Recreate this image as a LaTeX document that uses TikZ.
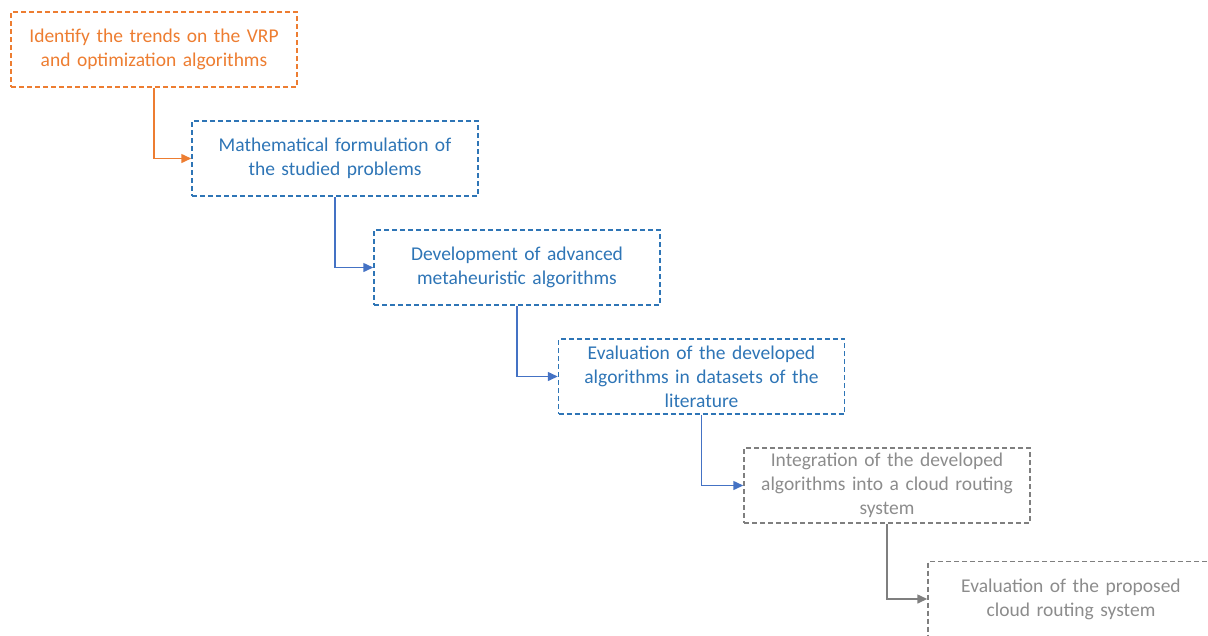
\documentclass[tikz,border=0pt]{standalone}
\usepackage{fontspec}
\setmainfont{Carlito}
\usetikzlibrary{arrows.meta}
\definecolor{stepOrange}{HTML}{ED7D31}
\definecolor{stepBlue}{HTML}{2E75B6}
\definecolor{linkBlue}{HTML}{4472C4}
\definecolor{stepGray}{HTML}{7F7F7F}
\definecolor{textGray}{HTML}{8C8C8C}
\begin{document}
\begin{tikzpicture}[x=1pt,y=-1pt,
  stagebox/.style={draw, line width=1.5pt, dash pattern=on 5pt off 3pt,
    minimum width=286pt, minimum height=75pt, text width=276pt, align=center,
    inner sep=0pt, font=\fontsize{19.5}{24}\selectfont},
  orangebox/.style={stagebox, draw=stepOrange, text=stepOrange},
  bluebox/.style={stagebox, draw=stepBlue, text=stepBlue},
  graybox/.style={stagebox, draw=stepGray, text=textGray},
  link/.style={line width=1.5pt, -{Triangle[length=10pt,width=9pt]}}]
  \useasboundingbox (0,0) rectangle (1208,635);
  \begin{scope}
  \clip (0,0) rectangle (1208,635);
  \node[orangebox] (s1) at (154,49.5) {Identify the trends on the VRP\\and optimization algorithms};
  \node[bluebox] (s2) at (335,158.5) {Mathematical formulation of\\the studied problems};
  \node[bluebox] (s3) at (517,267.5) {Development of advanced\\metaheuristic algorithms};
  \node[bluebox] (s4) at (701.5,376.5) {Evaluation of the developed\\algorithms in datasets of the\\literature};
  \node[graybox] (s5) at (887,485.5) {Integration of the developed\\algorithms into a cloud routing\\system};
  \node[graybox] (s6) at (1071,599) {Evaluation of the proposed\\cloud routing system};
  \draw[link, stepOrange] (s1.south) |- (s2.west);
  \draw[link, linkBlue] (s2.south) |- (s3.west);
  \draw[link, linkBlue] (s3.south) |- (s4.west);
  \draw[link, linkBlue] (s4.south) |- (s5.west);
  \draw[link, stepGray] (s5.south) |- (s6.west);
  \end{scope}
\end{tikzpicture}
\end{document}
